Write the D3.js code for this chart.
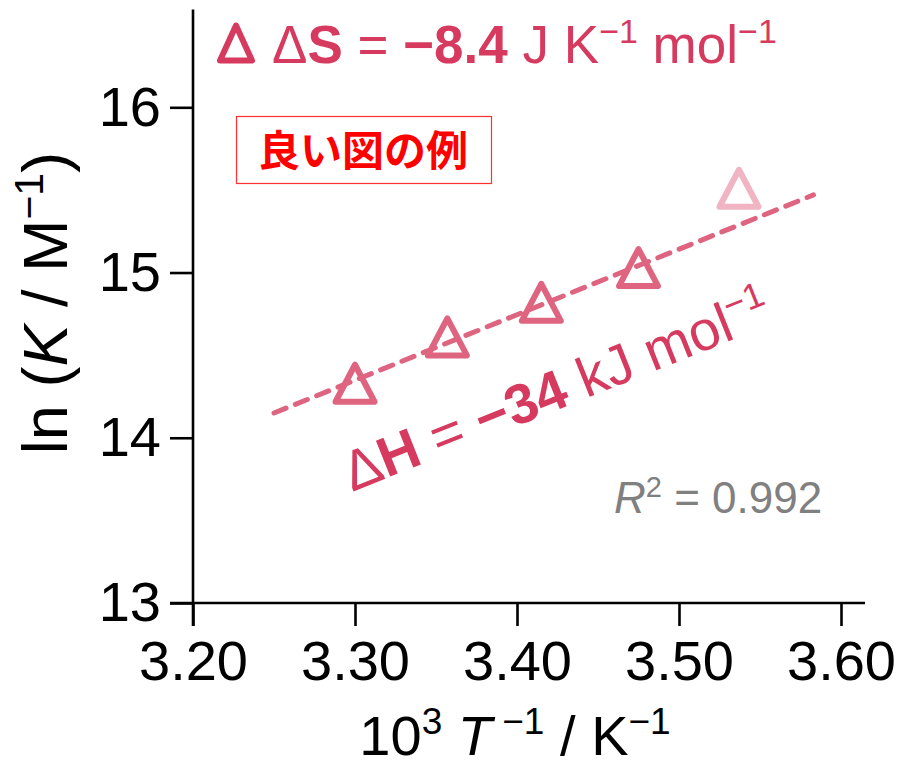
<!DOCTYPE html>
<html><head><meta charset="utf-8">
<script src="https://cdn.jsdelivr.net/npm/d3@7"></script>
<style>
html,body{margin:0;padding:0;background:#fff;}
svg{display:block;font-family:"Liberation Sans",Arial,sans-serif;}
</style></head>
<body>
<svg id="c" width="903" height="768"></svg>
<script>
// ---- data ----
const xTicks = [3.20, 3.30, 3.40, 3.50, 3.60];
const yTicks = [13, 14, 15, 16];
const invT = [3.300, 3.357, 3.415, 3.475, 3.537];
const lnK = [14.33, 14.61, 14.82, 15.03, 15.51];
const usedInFit = [true, true, true, true, false];
const fitX = [3.250, 3.583];
const fitY = [14.15, 15.47];
const dS = "−8.4";
const dH = "−34";
const r2 = "0.992";

const svg = d3.select("#c");
const x = d3.scaleLinear().domain([3.2, 3.6]).range([193, 841]);
const y = d3.scaleLinear().domain([13, 16]).range([603, 107.3]);
const red = "#d63a5f", mark = "#de6480", faded = "#f0b4c2";

// axes
const tl = 23;
const ya = svg.append("g").attr("transform", `translate(${x(3.2)},0)`)
  .call(d3.axisLeft(y).tickValues(yTicks).tickFormat(d3.format("d")).tickSize(tl).tickPadding(9));
const xa = svg.append("g").attr("transform", `translate(0,${y(13)})`)
  .call(d3.axisBottom(x).tickValues(xTicks).tickFormat(d3.format(".2f")).tickSize(tl).tickPadding(14));
[ya, xa].forEach(g => {
  g.select(".domain").remove();
  g.selectAll(".tick line").attr("stroke", "#000").attr("stroke-width", 2.6);
  g.selectAll(".tick text").attr("fill", "#000").attr("font-size", 56)
    .attr("font-family", "Liberation Sans, Arial, sans-serif");
});
xa.selectAll(".tick text").attr("dy", "0.71em");
svg.append("line").attr("x1", x(3.2)).attr("x2", x(3.2)).attr("y1", 9.5).attr("y2", y(13) + tl)
  .attr("stroke", "#000").attr("stroke-width", 2.6);
svg.append("line").attr("x1", x(3.2) - tl).attr("x2", 865).attr("y1", y(13)).attr("y2", y(13))
  .attr("stroke", "#000").attr("stroke-width", 2.6);

// axis titles
const xt = svg.append("text").attr("x", 515).attr("y", 755).attr("text-anchor", "middle")
  .attr("font-size", 56).attr("fill", "#000");
xt.append("tspan").text("10");
xt.append("tspan").attr("font-size", 37).attr("dy", -21).text("3");
xt.append("tspan").attr("dy", 21).text(" ");
xt.append("tspan").attr("font-style", "italic").text("T");
xt.append("tspan").attr("font-size", 37).attr("dy", -21).text(" −1");
xt.append("tspan").attr("dy", 21).text(" / K");
xt.append("tspan").attr("font-size", 37).attr("dy", -21).text("−1");

const yt = svg.append("text").attr("transform", "translate(67,303) rotate(-90)").attr("text-anchor", "middle")
  .attr("font-size", 63).attr("fill", "#000");
yt.append("tspan").text("ln (");
yt.append("tspan").attr("font-style", "italic").text("K");
yt.append("tspan").text(" / M");
yt.append("tspan").attr("font-size", 41).attr("dy", -24).text("−1");
yt.append("tspan").attr("font-size", 63).attr("dy", 24).text(")");

// fit line
svg.append("path").datum(fitX.map((v, i) => [v, fitY[i]]))
  .attr("d", d3.line().x(d => x(d[0])).y(d => y(d[1])))
  .attr("fill", "none").attr("stroke", mark).attr("stroke-width", 5)
  .attr("stroke-dasharray", "13 10").attr("stroke-linecap", "round");

// markers
const tri = "M0,-18.5L19.5,18.5L-19.5,18.5Z";
svg.selectAll("path.pt").data(invT.map((v, i) => ({x: v, y: lnK[i], u: usedInFit[i]})))
  .join("path").attr("class", "pt")
  .attr("transform", d => `translate(${x(d.x)},${y(d.y)})`)
  .attr("d", tri).attr("fill", "none")
  .attr("stroke", d => d.u ? mark : faded).attr("stroke-width", 6).attr("stroke-linejoin", "round");

// legend
svg.append("path").attr("transform", "translate(236,43)").attr("d", "M0,-17.5L16,17.5L-16,17.5Z")
  .attr("fill", "none").attr("stroke", red).attr("stroke-width", 6).attr("stroke-linejoin", "round");
const lg = svg.append("text").attr("x", 272).attr("y", 63).attr("font-size", 53).attr("fill", red);
lg.append("tspan").text("Δ");
lg.append("tspan").attr("font-weight", "bold").text("S");
lg.append("tspan").text(" = ");
lg.append("tspan").attr("font-weight", "bold").text(dS);
lg.append("tspan").text(" J K");
lg.append("tspan").attr("font-size", 34).attr("dy", -20).text("−1");
lg.append("tspan").attr("dy", 20).text(" mol");
lg.append("tspan").attr("font-size", 34).attr("dy", -20).text("−1");

// box
svg.append("rect").attr("x", 236.5).attr("y", 116.5).attr("width", 255).attr("height", 67)
  .attr("fill", "none").attr("stroke", "#ff3030").attr("stroke-width", 1.2);
svg.append("text").attr("x", 363).attr("y", 166).attr("text-anchor", "middle")
  .attr("font-family", "Noto Sans CJK JP").attr("font-weight", "bold").attr("font-size", 42)
  .attr("fill", "#ff0000").text("良い図の例");

// ΔH label
const hl = svg.append("text").attr("transform", "translate(352,492) rotate(-21.8)")
  .attr("font-size", 56).attr("fill", red);
hl.append("tspan").text("Δ");
hl.append("tspan").attr("font-weight", "bold").text("H");
hl.append("tspan").text(" = ");
hl.append("tspan").attr("font-weight", "bold").text(dH);
hl.append("tspan").text(" kJ mol");
hl.append("tspan").attr("font-size", 36).attr("dy", -21).text("−1");

// R2
const rt = svg.append("text").attr("x", 614).attr("y", 513).attr("font-size", 44).attr("fill", "#808080");
rt.append("tspan").attr("font-style", "italic").text("R");
rt.append("tspan").attr("font-size", 29).attr("dy", -16).text("2");
rt.append("tspan").attr("dy", 16).text(" = " + r2);
</script>
</body></html>
